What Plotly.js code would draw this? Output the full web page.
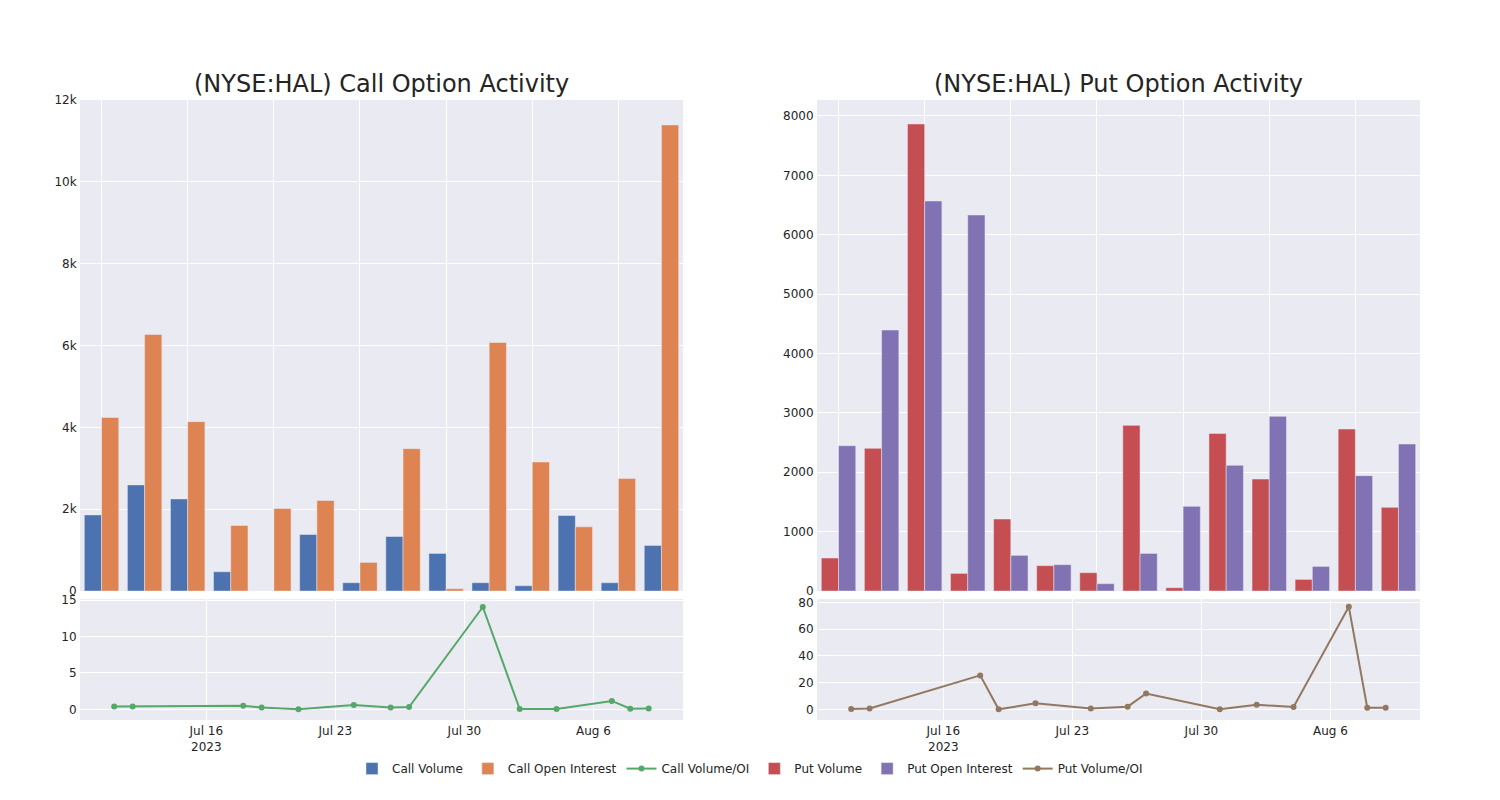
<!DOCTYPE html>
<html>
<head>
<meta charset="utf-8">
<script src="https://cdn.plot.ly/plotly-3.0.1.min.js"></script>
<style>html,body{margin:0;padding:0;background:#fff;}#chart{width:1500px;height:800px;}</style>
</head>
<body>
<div id="chart"></div>
<script>
const dates = ["2023-07-11","2023-07-12","2023-07-18","2023-07-19","2023-07-21","2023-07-24","2023-07-26","2023-07-27","2023-07-31","2023-08-02","2023-08-04","2023-08-07","2023-08-08","2023-08-09"];
const callVolume = [1860, 2593, 2251, 471, 0, 1383, 203, 1334, 919, 203, 130, 1846, 203, 1114];
const callOpenInterest = [4240, 6268, 4139, 1602, 2017, 2212, 700, 3480, 57, 6073, 3154, 1569, 2748, 11390];
const callVolOI = [0.4, 0.4, 0.5, 0.25, 0, 0.6, 0.25, 0.3, 14.05, 0.03, 0.04, 1.15, 0.07, 0.1];
const putVolume = [556, 2403, 7865, 297, 1213, 427, 309, 2790, 56, 2655, 1886, 196, 2728, 1409];
const putOpenInterest = [2448, 4396, 6568, 6333, 601, 444, 124, 634, 1426, 2117, 2942, 415, 1943, 2476];
const putVolOI = [0.3, 0.6, 25.4, 0, 4.5, 0.7, 2, 11.8, 0, 3.5, 1.7, 76.7, 1.2, 1.1];
const titles = ["(NYSE:HAL) Call Option Activity", "(NYSE:HAL) Put Option Activity"];

const C = {blue:"#4C72B0", orange:"#DD8452", green:"#55A868", red:"#C44E52", purple:"#8172B3", brown:"#937860"};
const barLine = {color:"rgb(234,234,242)", width:0.5};

const traces = [
  {type:"bar", name:"Call Volume", x:dates, y:callVolume, xaxis:"x", yaxis:"y", marker:{color:C.blue, line:barLine}},
  {type:"bar", name:"Call Open Interest", x:dates, y:callOpenInterest, xaxis:"x", yaxis:"y", marker:{color:C.orange, line:barLine}},
  {type:"scatter", mode:"lines+markers", name:"Call Volume/OI", x:dates, y:callVolOI, xaxis:"x3", yaxis:"y3", line:{color:C.green, width:2}, marker:{color:C.green, size:6}},
  {type:"bar", name:"Put Volume", x:dates, y:putVolume, xaxis:"x2", yaxis:"y2", marker:{color:C.red, line:barLine}},
  {type:"bar", name:"Put Open Interest", x:dates, y:putOpenInterest, xaxis:"x2", yaxis:"y2", marker:{color:C.purple, line:barLine}},
  {type:"scatter", mode:"lines+markers", name:"Put Volume/OI", x:dates, y:putVolOI, xaxis:"x4", yaxis:"y4", line:{color:C.brown, width:2}, marker:{color:C.brown, size:6}}
];

const grid = {gridcolor:"white", linecolor:"white", zerolinecolor:"white", ticks:"", tickfont:{size:12, color:"rgb(36,36,36)"}};
const leftDom = [0, 0.45], rightDom = [0.55, 1];
const topDom = [0.208, 1], botDom = [0, 0.195];
const dateRange = ["2023-07-09 03:30", "2023-08-10 20:40"];

const layout = {
  width:1500, height:800,
  margin:{l:80, r:80, t:100, b:80},
  paper_bgcolor:"white", plot_bgcolor:"rgb(234,234,242)",
  font:{family:"DejaVu Sans", size:12, color:"rgb(36,36,36)"},
  barmode:"group", bargap:0.2,
  showlegend:true,
  legend:{orientation:"h", x:0.5, xanchor:"center", y:-0.055, yanchor:"top", font:{size:12}},
  xaxis: Object.assign({}, grid, {domain:leftDom, anchor:"y", type:"category", showticklabels:false, tickmode:"linear", tick0:0, dtick:2}),
  yaxis: Object.assign({}, grid, {domain:topDom, anchor:"x", range:[0, 12000]}),
  xaxis2: Object.assign({}, grid, {domain:rightDom, anchor:"y2", type:"category", showticklabels:false, tickmode:"linear", tick0:0, dtick:2}),
  yaxis2: Object.assign({}, grid, {domain:topDom, anchor:"x2", range:[0, 8269]}),
  xaxis3: Object.assign({}, grid, {domain:leftDom, anchor:"y3", type:"date", range:dateRange}),
  yaxis3: Object.assign({}, grid, {domain:botDom, anchor:"x3", range:[-1.47, 15.14]}),
  xaxis4: Object.assign({}, grid, {domain:rightDom, anchor:"y4", type:"date", range:dateRange}),
  yaxis4: Object.assign({}, grid, {domain:botDom, anchor:"x4", range:[-8, 82.5]}),
  annotations:[
    {text:titles[0], xref:"paper", yref:"paper", x:(leftDom[0]+leftDom[1])/2, y:1, xanchor:"center", yanchor:"bottom", showarrow:false, font:{size:24, color:"rgb(36,36,36)"}},
    {text:titles[1], xref:"paper", yref:"paper", x:(rightDom[0]+rightDom[1])/2, y:1, xanchor:"center", yanchor:"bottom", showarrow:false, font:{size:24, color:"rgb(36,36,36)"}}
  ]
};

Plotly.newPlot("chart", traces, layout, {displayModeBar:false, responsive:false});
</script>
</body>
</html>
